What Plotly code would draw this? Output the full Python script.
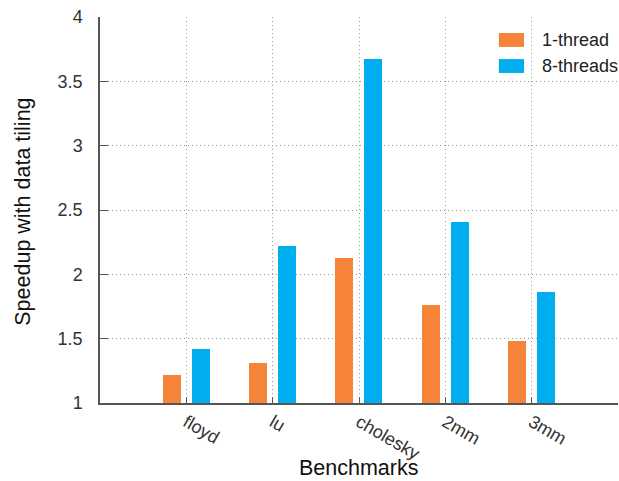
import plotly.graph_objects as go

# benchmarks and measured speedups
benchmarks = ['floyd', 'lu', 'cholesky', '2mm', '3mm']
one_thread = [1.22, 1.31, 2.13, 1.76, 1.48]
eight_threads = [1.42, 2.22, 3.67, 2.41, 1.86]
series_names = ['1-thread', '8-threads']

orange = '#f58439'
blue = '#00adef'
font = 'Liberation Sans, Arial, Helvetica, sans-serif'

fig = go.Figure()
fig.add_trace(go.Bar(
    x=benchmarks, y=one_thread, name=series_names[0],
    marker=dict(color=orange, line=dict(width=0)),
    width=0.21, offset=-0.275, base=0,
))
fig.add_trace(go.Bar(
    x=benchmarks, y=eight_threads, name=series_names[1],
    marker=dict(color=blue, line=dict(width=0)),
    width=0.21, offset=0.06, base=0,
))

fig.update_layout(
    width=619, height=481,
    margin=dict(l=100, r=1, t=17, b=78),
    plot_bgcolor='white', paper_bgcolor='white',
    font=dict(family=font, size=18, color='#333'),
    showlegend=False,
    bargap=0,
)

# legend drawn as swatches + labels in the top right corner
for i, (name, col) in enumerate(zip(series_names, [orange, blue])):
    y0 = 0.9585 - i * 0.0675
    fig.add_shape(type='rect', xref='paper', yref='paper',
                  x0=0.770, x1=0.8185, y0=y0 - 0.036, y1=y0,
                  fillcolor=col, line=dict(width=0))
    fig.add_annotation(text=name, xref='paper', yref='paper',
                       x=0.849, y=y0 - 0.018, xanchor='left', yanchor='middle',
                       showarrow=False, font=dict(size=18, color='#222'))

# axis titles
fig.add_annotation(text='Benchmarks', xref='paper', yref='paper',
                   x=0.5, y=-0.168, xanchor='center', yanchor='middle',
                   showarrow=False, font=dict(size=21.5, color='#111'))
fig.add_annotation(text='Speedup with data tiling', xref='paper', yref='paper',
                   x=-0.149, y=0.495, xanchor='center', yanchor='middle', textangle=-90,
                   showarrow=False, font=dict(size=21.5, color='#111'))

fig.update_xaxes(
    range=[-1, 5], type='category', automargin=False,
    tickangle=30, ticks='inside', ticklen=6, tickcolor='#555',
    showline=True, linecolor='#555', linewidth=1.5,
    showgrid=True, gridcolor='#999', griddash='1px,3px', gridwidth=1,
    tickfont=dict(size=18, color='#333'),
)
fig.update_yaxes(
    range=[1, 4], dtick=0.5, tick0=1, automargin=False,
    ticks='inside', ticklen=8, tickcolor='#555',
    showline=True, linecolor='#555', linewidth=1.5,
    showgrid=True, gridcolor='#999', griddash='1px,3px', gridwidth=1,
    zeroline=False, ticklabelstandoff=12, ticklabeloverflow='allow',
    tickfont=dict(size=18, color='#333'),
)

# drop the default page margin so the figure fills the window exactly
fig.write_html('out.html',
               config={'displayModeBar': False},
               post_script="document.body.style.margin='0';document.body.style.overflow='hidden';")
